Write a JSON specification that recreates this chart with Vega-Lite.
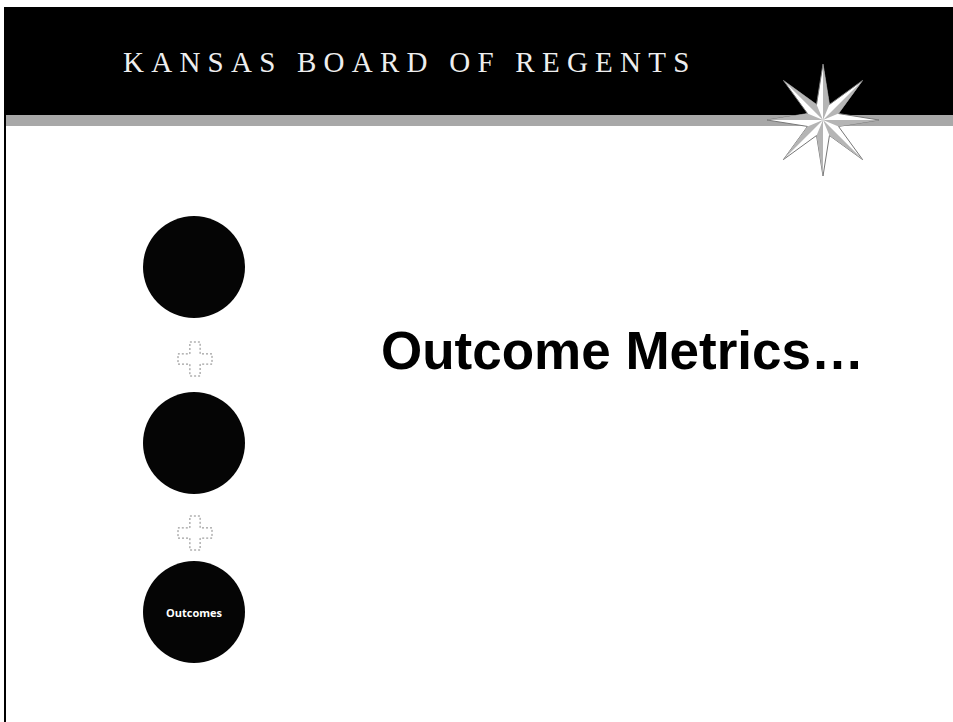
{
  "$schema": "https://vega.github.io/schema/vega-lite/v6.json",
  "width": 953,
  "height": 722,
  "autosize": "none",
  "padding": 0,
  "background": "white",
  "config": {"view": {"stroke": null}},
  "datasets": {
    "band": [{"x": 6, "x2": 953, "y": 7, "y2": 115}],
    "strip": [{"x": 6, "x2": 953, "y": 115, "y2": 126}],
    "border": [{"x": 5, "y": 7, "y2": 722}],
    "header": [{"x": 123, "y": 72, "label": "K\u00a0A\u00a0N\u00a0S\u00a0A\u00a0S\u00a0\u00a0\u00a0B\u00a0O\u00a0A\u00a0R\u00a0D\u00a0\u00a0\u00a0O\u00a0F\u00a0\u00a0\u00a0R\u00a0E\u00a0G\u00a0E\u00a0N\u00a0T\u00a0S"}],
    "star": [{"x": 823, "y": 120}],
    "circles": [{"x": 194, "y": 267, "n": 1}, {"x": 194, "y": 443, "n": 2}, {"x": 194, "y": 612, "n": 3}],
    "plus": [{"x": 195, "y": 359}, {"x": 195, "y": 533}],
    "labels": [{"x": 194, "y": 614, "label": "Outcomes"}],
    "title": [{"x": 381, "y": 369, "label": "Outcome Metrics…"}]
  },
  "encoding": {
    "x": {"field": "x", "type": "quantitative", "scale": {"domain": [0, 953], "nice": false, "zero": false}, "axis": null},
    "y": {"field": "y", "type": "quantitative", "scale": {"domain": [0, 722], "nice": false, "zero": false, "reverse": true}, "axis": null}
  },
  "layer": [
    {
      "data": {"name": "band"},
      "mark": {"type": "rect", "fill": "#000000"},
      "encoding": {"x2": {"field": "x2"}, "y2": {"field": "y2"}}
    },
    {
      "data": {"name": "strip"},
      "mark": {"type": "rect", "fill": "#a8a8a8"},
      "encoding": {"x2": {"field": "x2"}, "y2": {"field": "y2"}}
    },
    {
      "data": {"name": "border"},
      "mark": {"type": "rule", "stroke": "#000000", "strokeWidth": 2},
      "encoding": {"y2": {"field": "y2"}}
    },
    {
      "data": {"name": "header"},
      "mark": {"type": "text", "font": "Liberation Serif", "fontSize": 29, "fill": "#eeeeee", "align": "left", "baseline": "alphabetic"},
      "encoding": {"text": {"field": "label"}}
    },
    {
      "data": {"name": "star"},
      "mark": {"type": "point", "filled": true, "fill": "#ffffff", "stroke": "#777777", "strokeWidth": 1, "opacity": 1, "size": 12544,
        "shape": "M0,-1 L0.115,-0.277 L0.707,-0.707 L0.277,-0.115 L1,0 L0.277,0.115 L0.707,0.707 L0.115,0.277 L0,1 L-0.115,0.277 L-0.707,0.707 L-0.277,0.115 L-1,0 L-0.277,-0.115 L-0.707,-0.707 L-0.115,-0.277 Z"}
    },
    {
      "data": {"name": "star"},
      "mark": {"type": "point", "filled": true, "fill": "#b5b5b5", "strokeWidth": 0, "opacity": 1, "size": 12544,
        "shape": "M0,0 L0,-1 L0.115,-0.277 Z M0,0 L0.707,-0.707 L0.277,-0.115 Z M0,0 L1,0 L0.277,0.115 Z M0,0 L0.707,0.707 L0.115,0.277 Z M0,0 L0,1 L-0.115,0.277 Z M0,0 L-0.707,0.707 L-0.277,0.115 Z M0,0 L-1,0 L-0.277,-0.115 Z M0,0 L-0.707,-0.707 L-0.115,-0.277 Z"}
    },
    {
      "data": {"name": "circles"},
      "mark": {"type": "point", "shape": "circle", "filled": true, "fill": "#050505", "opacity": 1, "size": 10404}
    },
    {
      "data": {"name": "plus"},
      "mark": {"type": "point", "filled": true, "fill": "#ffffff", "stroke": "#888888", "strokeWidth": 1, "strokeDash": [2, 2], "opacity": 1, "size": 1156,
        "shape": "M-0.3,-1 L0.3,-1 L0.3,-0.3 L1,-0.3 L1,0.3 L0.3,0.3 L0.3,1 L-0.3,1 L-0.3,0.3 L-1,0.3 L-1,-0.3 L-0.3,-0.3 Z"}
    },
    {
      "data": {"name": "labels"},
      "mark": {"type": "text", "font": "Open Sans", "fontWeight": "bold", "fontSize": 11, "fill": "#ffffff", "align": "center", "baseline": "middle"},
      "encoding": {"text": {"field": "label"}}
    },
    {
      "data": {"name": "title"},
      "mark": {"type": "text", "font": "Liberation Sans", "fontWeight": "bold", "fontSize": 53, "fill": "#000000", "align": "left", "baseline": "alphabetic"},
      "encoding": {"text": {"field": "label"}}
    }
  ]
}
